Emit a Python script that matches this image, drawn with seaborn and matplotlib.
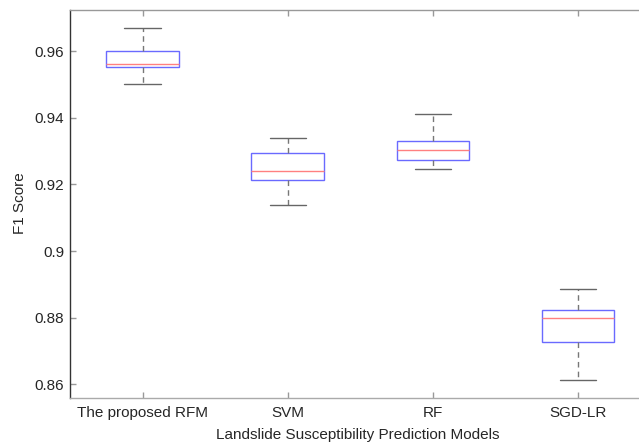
import matplotlib
matplotlib.use("Agg")
import matplotlib.pyplot as plt
import seaborn as sns
import pandas as pd

# Data: [lower whisker, Q1, median, Q3, upper whisker]
models = ["The proposed RFM", "SVM", "RF", "SGD-LR"]
rfm_stats = [0.9500, 0.9551, 0.9562, 0.9600, 0.9670]
svm_stats = [0.9138, 0.9213, 0.9240, 0.9295, 0.9340]
rf_stats = [0.9245, 0.9274, 0.9304, 0.9329, 0.9410]
sgd_stats = [0.8612, 0.8726, 0.8799, 0.8824, 0.8885]
y_ticks = [0.86, 0.88, 0.90, 0.92, 0.94, 0.96]
y_tick_labels = ["0.86", "0.88", "0.9", "0.92", "0.94", "0.96"]

rows = []
for name, vals in zip(models, [rfm_stats, svm_stats, rf_stats, sgd_stats]):
    for v in vals:
        rows.append({"model": name, "score": v})
df = pd.DataFrame(rows)

sns.set_style("ticks")
plt.rcParams["font.family"] = ["Liberation Sans", "DejaVu Sans"]
plt.rcParams["xtick.direction"] = "in"
plt.rcParams["ytick.direction"] = "in"

fig = plt.figure(figsize=(6.39, 4.45), dpi=100)
ax = fig.add_axes([70 / 639, 47 / 445, (650.5 - 70) / 639, (398.5 - 10) / 445])

sns.boxplot(
    data=df, x="model", y="score", order=models, whis=(0, 100), width=0.5,
    ax=ax, showfliers=False, linewidth=1.0,
    boxprops=dict(facecolor="white", edgecolor="#6a6aff", linewidth=1.0),
    medianprops=dict(color="#ff8080", linewidth=1.0),
    whiskerprops=dict(color="#777777", linestyle=(0, (4, 3)), linewidth=1.0),
    capprops=dict(color="#666666", linewidth=1.0),
)

ax.set_xlim(0.5 - 1, 4.5 - 1)
ax.set_ylim(0.8559, 0.9725)
ax.set_yticks(y_ticks)
ax.set_yticklabels(y_tick_labels)

for side in ["top", "right", "bottom", "left"]:
    ax.spines[side].set_visible(True)
ax.spines["left"].set_color("#333333")
ax.spines["top"].set_color("#999999")
ax.spines["bottom"].set_color("#aaaaaa")
ax.spines["right"].set_color("#999999")
for s in ax.spines.values():
    s.set_linewidth(1.0)

ax.tick_params(axis="both", which="both", labelsize=11, labelcolor="#262626",
               color="#999999", length=4, width=1)
ax.tick_params(axis="x", top=True, pad=6)
ax.tick_params(axis="y", right=False, pad=4)

ax.set_xlabel("Landslide Susceptibility Prediction Models", fontsize=11, color="#262626")
ax.set_ylabel("F1 Score", fontsize=11, color="#262626")
ax.xaxis.set_label_coords((358 - 70) / (650.5 - 70), -(436 - 398.5) / (398.5 - 10))
ax.yaxis.set_label_coords(-(70 - 20) / (650.5 - 70), (398.5 - 204) / (398.5 - 10))
ax.xaxis.label.set_va("center")
ax.yaxis.label.set_va("center")

fig.savefig("out.png", dpi=100)
